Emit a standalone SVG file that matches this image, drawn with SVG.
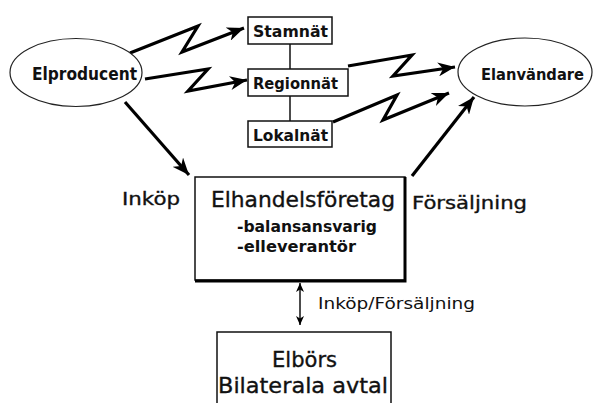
<svg xmlns="http://www.w3.org/2000/svg" width="596" height="403" viewBox="0 0 596 403">
<defs>
<style>
.lbl{font-family:"DejaVu Sans","Liberation Sans",sans-serif;fill:#111;}
.b{font-weight:bold;}
.m{stroke:#111;stroke-width:0.35;}
.n{fill:#fff;stroke:#111;stroke-width:1.5;}
.ell{fill:#fff;stroke:#222;stroke-width:1.2;}
.conn{fill:none;stroke:#000;stroke-width:3.2;stroke-linejoin:miter;}
.thin{fill:none;stroke:#111;stroke-width:1.5;}
</style>
<marker id="ah" markerUnits="userSpaceOnUse" markerWidth="18" markerHeight="14" refX="17" refY="7" orient="auto">
<path d="M0,0 L17,7 L0,14 L5,7 z" fill="#000"/>
</marker>
<marker id="sa" markerUnits="userSpaceOnUse" markerWidth="10" markerHeight="10" refX="9" refY="4" orient="auto-start-reverse">
<path d="M0,0 L9,4 L0,8 L2.5,4 z" fill="#000"/>
</marker>
</defs>
<rect width="596" height="403" fill="#fff"/>

<g id="connectors">
<path class="conn" d="M130,53 L198,26 L182,52 L244,28" marker-end="url(#ah)"/>
<path class="conn" d="M145,79 L208,69 L188,91 L247,80" marker-end="url(#ah)"/>
<path class="conn" d="M348,66 L412,55 L393,76 L455,67" marker-end="url(#ah)"/>
<path class="conn" d="M333,122 L397,95 L383,120 L449,93" marker-end="url(#ah)"/>
<path class="conn" d="M125,102 L189,175" marker-end="url(#ah)"/>
<path class="conn" d="M412,176 L474,97" marker-end="url(#ah)"/>
<line class="thin" x1="290" y1="44" x2="290" y2="69"/>
<line class="thin" x1="290" y1="96" x2="290" y2="121"/>
<line class="thin" x1="300" y1="283" x2="300" y2="325" marker-start="url(#sa)" marker-end="url(#sa)"/>
</g>

<g id="elproducent">
<ellipse class="ell" cx="76" cy="72.5" rx="66" ry="34"/>
<text class="lbl b" x="32" y="80" font-size="17" textLength="105" lengthAdjust="spacingAndGlyphs">Elproducent</text>
</g>

<g id="elanvandare">
<ellipse class="ell" cx="525" cy="72" rx="67" ry="34"/>
<text class="lbl b" x="481" y="80" font-size="16.5" textLength="103" lengthAdjust="spacingAndGlyphs">Elanvändare</text>
</g>

<g id="stamnat">
<rect class="n" x="248" y="17" width="84" height="27"/>
<text class="lbl b" x="253" y="37" font-size="15.5" textLength="75" lengthAdjust="spacingAndGlyphs">Stamnät</text>
</g>

<g id="regionnat">
<rect class="n" x="248" y="69" width="100" height="27"/>
<text class="lbl b" x="253" y="89" font-size="15.5" textLength="85" lengthAdjust="spacingAndGlyphs">Regionnät</text>
</g>

<g id="lokalnat">
<rect class="n" x="248" y="121" width="84" height="26"/>
<text class="lbl b" x="253" y="141" font-size="15.5" textLength="75" lengthAdjust="spacingAndGlyphs">Lokalnät</text>
</g>

<g id="elhandelsforetag">
<rect class="n" x="195" y="177" width="210" height="103"/>
<path d="M405,177 L405,281 L195,281" fill="none" stroke="#000" stroke-width="3"/>
<text class="lbl m" x="211" y="207" font-size="21" textLength="184" lengthAdjust="spacingAndGlyphs">Elhandelsföretag</text>
<text class="lbl b" x="237" y="232" font-size="16" textLength="140" lengthAdjust="spacingAndGlyphs">-balansansvarig</text>
<text class="lbl b" x="237" y="252" font-size="16" textLength="119" lengthAdjust="spacingAndGlyphs">-elleverantör</text>
</g>

<g id="elbors">
<rect class="n" x="217" y="332" width="174" height="80"/>
<text class="lbl m" x="272" y="367" font-size="21" textLength="65" lengthAdjust="spacingAndGlyphs">Elbörs</text>
<text class="lbl m" x="218" y="393" font-size="21" textLength="170" lengthAdjust="spacingAndGlyphs">Bilaterala avtal</text>
</g>

<g id="labels">
<text class="lbl m" x="122" y="205" font-size="18" textLength="58" lengthAdjust="spacingAndGlyphs">Inköp</text>
<text class="lbl m" x="412" y="209" font-size="18" textLength="115" lengthAdjust="spacingAndGlyphs">Försäljning</text>
<text class="lbl" x="318" y="309" font-size="15.5" textLength="157" lengthAdjust="spacingAndGlyphs">Inköp/Försäljning</text>
</g>
</svg>
